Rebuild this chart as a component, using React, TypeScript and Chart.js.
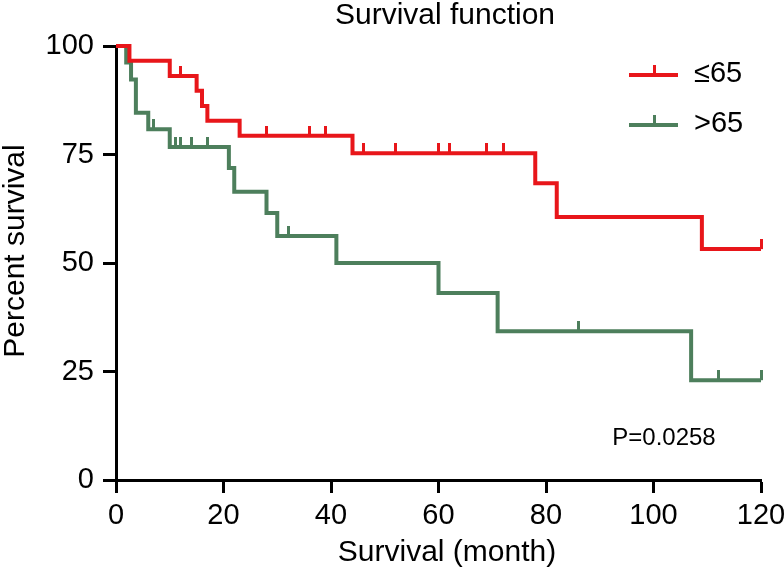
import React, { useEffect, useRef } from 'react';
import { Chart, registerables } from 'chart.js';

Chart.register(...registerables);

const FONT = "'Liberation Sans', Arial, Helvetica, sans-serif";

const TITLE = 'Survival function';
const X_TITLE = 'Survival (month)';
const Y_TITLE = 'Percent survival';
const P_TEXT = 'P=0.0258';

const X_MIN = 0;
const X_MAX = 120;
const X_STEP = 20;
const Y_MIN = 0;
const Y_MAX = 100;
const Y_STEP = 25;

const groupLabels = ['\u226465', '>65'];
const groupColors = ['#e8161a', '#4d7f5c'];

// Group ≤65: event times (months) and survival (%) after each step
const redTimes = [0, 2.5, 10, 15, 16, 17, 23, 44, 78, 82, 109, 120];
const redSurvival = [100, 96.6, 93.1, 89.7, 86.2, 82.8, 79.3, 75.3, 68.4, 60.6, 53.2, 53.2];
const redCensored = [12, 28, 36, 39, 46, 52, 60, 62, 69, 72, 120];

// Group >65
const greenTimes = [0, 1.9, 2.8, 3.7, 6, 10, 21, 22, 28, 30, 41, 60, 71, 107, 120];
const greenSurvival = [100, 96.2, 92.3, 84.6, 80.8, 76.7, 71.9, 66.4, 61.5, 56.2, 50, 43.1, 34.3, 23, 23];
const greenCensored = [7, 11, 12, 14, 17, 32, 86, 112, 120];

function survivalAt(times: number[], surv: number[], t: number): number {
  let v = surv[0];
  for (let i = 0; i < times.length; i++) {
    if (times[i] <= t) v = surv[i];
  }
  return v;
}

function makeTick(color: string): HTMLCanvasElement {
  const c = document.createElement('canvas');
  c.width = 3;
  c.height = 20;
  const g = c.getContext('2d')!;
  g.fillStyle = color;
  g.fillRect(0, 0, 3, 10);
  return c;
}

export default function App() {
  const ref = useRef<HTMLCanvasElement | null>(null);

  useEffect(() => {
    if (!ref.current) return;
    const redTick = makeTick(groupColors[0]);
    const greenTick = makeTick(groupColors[1]);

    const annotations = {
      id: 'annotations',
      afterDraw(chart: any) {
        const { ctx } = chart;
        ctx.save();
        ctx.fillStyle = '#000';
        ctx.textAlign = 'center';
        ctx.textBaseline = 'middle';
        ctx.font = `30px ${FONT}`;
        ctx.fillText(TITLE, 445, 16);
        ctx.fillText(X_TITLE, 447, 553);
        ctx.save();
        ctx.translate(16, 251);
        ctx.rotate(-Math.PI / 2);
        ctx.fillText(Y_TITLE, 0, 0);
        ctx.restore();
        ctx.font = `24px ${FONT}`;
        ctx.fillText(P_TEXT, 664, 438);

        // legend
        const rows = [75, 125];
        const ticks = [redTick, greenTick];
        for (let i = 0; i < 2; i++) {
          const y = rows[i];
          ctx.strokeStyle = groupColors[i];
          ctx.lineWidth = 4;
          ctx.beginPath();
          ctx.moveTo(629, y);
          ctx.lineTo(678, y);
          ctx.stroke();
          ctx.drawImage(ticks[i], 653, y - 10);
          ctx.fillStyle = '#000';
          ctx.textAlign = 'left';
          ctx.font = `29px ${FONT}`;
          ctx.fillText(groupLabels[i], 694, y - 1);
        }
        ctx.restore();
      },
    };

    const chart = new Chart(ref.current, {
      type: 'line',
      data: {
        datasets: [
          {
            label: groupLabels[0],
            data: redTimes.map((t, i) => ({ x: t, y: redSurvival[i] })),
            borderColor: groupColors[0],
            borderWidth: 4,
            stepped: 'before',
            pointRadius: 0,
            fill: false,
            clip: false as any,
          },
          {
            label: groupLabels[1],
            data: greenTimes.map((t, i) => ({ x: t, y: greenSurvival[i] })),
            borderColor: groupColors[1],
            borderWidth: 4,
            stepped: 'before',
            pointRadius: 0,
            fill: false,
            clip: false as any,
          },
          {
            label: groupLabels[0] + ' censored',
            data: redCensored.map((t) => ({ x: t, y: survivalAt(redTimes, redSurvival, t) })),
            showLine: false,
            pointStyle: redTick as any,
            pointRadius: 10,
            clip: false as any,
          },
          {
            label: groupLabels[1] + ' censored',
            data: greenCensored.map((t) => ({ x: t, y: survivalAt(greenTimes, greenSurvival, t) })),
            showLine: false,
            pointStyle: greenTick as any,
            pointRadius: 10,
            clip: false as any,
          },
        ],
      },
      options: {
        responsive: false,
        animation: false,
        layout: { padding: { top: 46, right: 23, left: 0, bottom: 0 } },
        plugins: {
          legend: { display: false },
          title: { display: false },
          tooltip: { enabled: false },
        },
        scales: {
          x: {
            type: 'linear',
            min: X_MIN,
            max: X_MAX,
            afterFit: (s: any) => {
              s.height = 96;
              s.paddingLeft = 0;
              s.paddingRight = 0;
            },
            ticks: {
              stepSize: X_STEP,
              color: '#000',
              font: { family: FONT, size: 29 },
              padding: 6,
              maxRotation: 0,
            },
            grid: {
              display: true,
              drawOnChartArea: false,
              drawTicks: true,
              tickLength: 13,
              tickWidth: 3,
              tickColor: '#000',
            },
            border: { display: true, color: '#000', width: 3 },
          },
          y: {
            type: 'linear',
            min: Y_MIN,
            max: Y_MAX,
            afterFit: (s: any) => {
              s.width = 116;
              s.paddingTop = 0;
              s.paddingBottom = 0;
            },
            ticks: {
              stepSize: Y_STEP,
              color: '#000',
              font: { family: FONT, size: 29 },
              padding: 9,
            },
            grid: {
              display: true,
              drawOnChartArea: false,
              drawTicks: true,
              tickLength: 13,
              tickWidth: 3,
              tickColor: '#000',
            },
            border: { display: true, color: '#000', width: 3 },
          },
        },
      },
      plugins: [annotations],
    });
    return () => chart.destroy();
  }, []);

  return (
    <div style={{ position: 'fixed', left: 0, top: 0, width: 784, height: 576, background: '#fff' }}>
      <canvas ref={ref} width={784} height={576} style={{ display: 'block' }} />
    </div>
  );
}
